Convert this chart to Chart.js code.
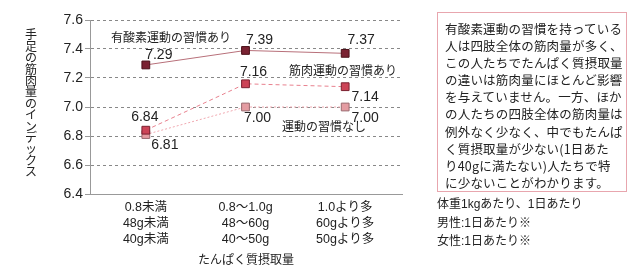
<!DOCTYPE html>
<html><head><meta charset="utf-8">
<script src="https://cdn.jsdelivr.net/npm/chart.js@4.4.1/dist/chart.umd.min.js"></script>
<style>
html,body{margin:0;padding:0;background:#fff;}
#wrap{position:relative;width:640px;height:275px;}
#box{position:absolute;left:437px;top:12px;width:190px;height:180px;border:1px solid #e8a6ae;box-sizing:border-box;
 font-family:"Noto Sans CJK JP",sans-serif;font-size:12.5px;line-height:17.1px;color:#222;padding:7px 0 0 7px;letter-spacing:0.2px;white-space:nowrap;}
</style></head><body>
<div id="wrap"><canvas id="c" width="640" height="275"></canvas>
<div id="box">有酸素運動の習慣を持っている<br>人は四肢全体の筋肉量が多く、<br>この人たちでたんぱく質摂取量<br>の違いは筋肉量にほとんど影響<br>を与えていません。一方、ほか<br>の人たちの四肢全体の筋肉量は<br>例外なく少なく、中でもたんぱ<br>く質摂取量が少ない(1日あた<br>り40gに満たない)人たちで特<br>に少ないことがわかります。</div>
</div>
<script>
const categories = [["0.8未満","48g未満","40g未満"],["0.8～1.0g","48～60g","40～50g"],["1.0より多","60gより多","50gより多"]];
const seriesNames = ["有酸素運動の習慣あり","筋肉運動の習慣あり","運動の習慣なし"];
const aerobic = [7.29, 7.39, 7.37];
const muscle = [6.84, 7.16, 7.14];
const none = [6.81, 7.00, 7.00];
const yTicks = [6.4, 6.6, 6.8, 7.0, 7.2, 7.4, 7.6];
const yTitle = "手足の筋肉量のインデックス";
const xTitle = "たんぱく質摂取量";
const notes = ["体重1kgあたり、1日あたり","男性:1日あたり※","女性:1日あたり※"];

const FONT = "'Liberation Sans','Noto Sans CJK JP',sans-serif";
const toXY = arr => arr.map((v,i)=>({x:i,y:v}));

// label offsets [dx, dy] relative to point, per series per point
const labelOff = [
  [[13,-10],[14,-10],[16,-13]],
  [[-1,-13],[8,-12],[20,10]],
  [[19,11],[12,11],[20,11]]
];

const extra = {
  id:'extra',
  afterDraw(chart){
    const ctx = chart.ctx, ca = chart.chartArea;
    ctx.save();
    ctx.fillStyle = '#222';
    ctx.textAlign='center'; ctx.textBaseline='middle';
    ctx.font = "14px "+FONT;
    [aerobic,muscle,none].forEach((arr,d)=>{
      const meta = chart.getDatasetMeta(d);
      meta.data.forEach((p,i)=>{
        const o = labelOff[d][i];
        ctx.fillText(arr[i].toFixed(2), p.x+o[0], p.y+o[1]);
      });
    });
    ctx.font = "12px "+FONT;
    ctx.textAlign='left';
    ctx.fillText(seriesNames[0], 111, 39);
    ctx.fillText(seriesNames[1], 289, 72);
    ctx.fillText(seriesNames[2], 282, 128);
    ctx.textAlign='center';
    [...yTitle].forEach((ch,i)=>{
      ctx.fillText(ch, 31, 36 + i*11.4);
    });
    ctx.fillText(xTitle, (ca.left+ca.right)/2, 261);
    ctx.textAlign='left';
    notes.forEach((t,i)=>ctx.fillText(t, 437, 205+i*18.5));
    ctx.restore();
  }
};

new Chart(document.getElementById('c'), {
  type:'line',
  data:{
    datasets:[
      {label:seriesNames[0], data:toXY(aerobic), borderColor:'#b8707a', borderWidth:1, pointStyle:'rect', pointRadius:5.5,
       pointBackgroundColor:'#7a2232', pointBorderColor:'#4a1018', pointBorderWidth:1},
      {label:seriesNames[1], data:toXY(muscle), borderColor:'#e8808e', borderWidth:1, borderDash:[4,3], pointStyle:'rect', pointRadius:5.5,
       pointBackgroundColor:'#cc4457', pointBorderColor:'#7a2030', pointBorderWidth:1},
      {label:seriesNames[2], data:toXY(none), borderColor:'#f0a8b0', borderWidth:1, borderDash:[2,2], pointStyle:'rect', pointRadius:5.5,
       pointBackgroundColor:'#e49ca2', pointBorderColor:'#9a6a70', pointBorderWidth:1}
    ]
  },
  options:{
    responsive:false, animation:false,
    layout:{padding:{left:0,right:238,top:20,bottom:0}},
    plugins:{legend:{display:false}, tooltip:{enabled:false}},
    scales:{
      x:{type:'linear', min:-0.56, max:2.57,
        afterFit(s){ s.height = 81; },
        afterBuildTicks(s){ s.ticks = categories.map((c,i)=>({value:i})); },
        grid:{display:true, drawOnChartArea:false, drawTicks:false, color:'rgba(0,0,0,0)'},
        border:{display:true, color:'#999', width:1},
        ticks:{padding:6, color:'#222', font:{family:FONT,size:12.5, lineHeight:1.28}, maxRotation:0, autoSkip:false,
          callback:(v)=>categories[v]}
      },
      y:{min:6.4, max:7.6,
        afterFit(s){ s.width = 90; },
        afterBuildTicks(s){ s.ticks = yTicks.map(v=>({value:v})); },
        grid:{color:'#888', tickLength:5, tickColor:'#999', tickBorderDash:[]},
        border:{display:true, color:'#999', width:1, dash:[3,3]},
        ticks:{padding:2, color:'#222', font:{family:FONT,size:14}, callback:v=>v.toFixed(1)}
      }
    }
  },
  plugins:[extra]
});
</script>
</body></html>
